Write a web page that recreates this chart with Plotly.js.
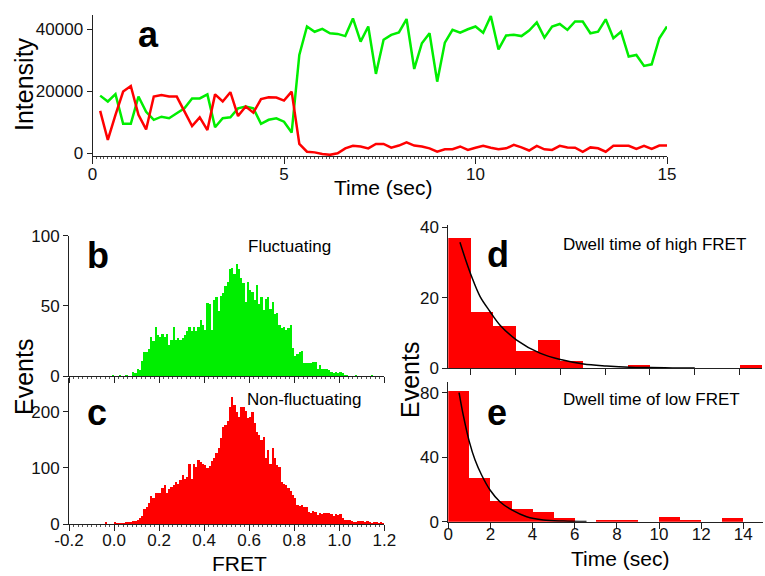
<!DOCTYPE html>
<html>
<head>
<meta charset="utf-8">
<script src="https://cdn.plot.ly/plotly-3.0.1.min.js"></script>
<style>html,body{margin:0;padding:0;background:#fff;}#chart{width:765px;height:576px;}</style>
</head>
<body>
<div id="chart"></div>
<script>
// ---------- Panel a: intensity time traces (sampled every 0.2 s, starting at 0.2 s) ----------
const traceStart = 0.2;
const traceStep = 0.2;
const greenIntensity = [18600,16700,19100,9500,9500,18300,13400,10800,11800,11300,12900,14500,17700,17700,19000,8400,11300,11600,14500,15100,14500,9500,10800,11300,10200,6700,31700,40900,39200,40100,38700,38500,37800,43500,36000,40900,25600,
  36600,38200,39000,43300,27200,35500,38700,23100,35700,39800,38900,40000,40900,38900,44300,33500,38000,38200,37800,39600,42200,37300,40900,41700,39800,42500,42500,38700,39200,43200,37100,39200,31200,31700,28200,28700,37100,40900];
const redIntensity = [13700,4300,12400,19900,21700,12400,7700,18300,18800,18300,18300,13400,8800,11600,7500,19000,16700,19700,12000,15100,13100,17500,18100,18000,17000,19900,3000,500,300,-200,-500,0,1600,2400,2200,1600,3000,
  3000,1800,2500,3500,2500,2200,1600,500,1300,1300,2200,1100,1800,2400,1800,1300,1600,2700,1900,900,2400,1300,1100,2400,1900,1800,500,1900,1600,500,2400,2400,2400,1400,2400,1400,2500,2500];
const timeTicks = [0, 5, 10, 15];
const intensityTicks = [0, 20000, 40000];

// ---------- Panels b, c: FRET histograms (bin width 0.01) ----------
const fretBinWidth = 0.01;
const fluctStartCenter = -0.005;
const fluctCounts = [1,0,0,1,0,0,1,0,0,3,2,5,4,11,17,17,19,28,25,35,29,28,30,28,30,22,26,35,26,27,26,27,29,32,35,32,35,32,35,40,36,33,52,51,33,54,56,46,57,59,64,67,76,77,73,80,76,70,66,53,67,61,60,54,65,51,56,47,55,56,48,53,44,45,36,34,35,33,34,36,20,14,16,17,18,9,9,9,9,10,10,5,8,5,5,5,4,3,2,3,2,3,2,1,1,0,0,0,1,0,0,0,0,0,0,1];
const nonFluctStartCenter = -0.035;
const nonFluctCounts = [3,0,0,0,4,2,2,1,2,4,4,4,5,6,8,10,14,26,31,37,50,46,55,56,56,64,69,55,62,66,69,75,72,78,87,80,84,106,81,107,102,114,111,106,105,99,103,113,117,126,135,153,173,176,184,209,227,212,200,191,209,208,202,188,191,200,179,164,158,150,155,117,132,106,135,117,105,102,75,72,69,64,59,52,46,34,32,34,30,31,22,20,24,22,16,20,18,20,19,19,18,14,18,16,18,10,8,8,7,6,4,4,6,5,6,4,6,4,2,4,4,2,4,2];
const fretTicks = [-0.2, 0.0, 0.2, 0.4, 0.6, 0.8, 1.0, 1.2];
const fretTickText = ['-0.2','0.0','0.2','0.4','0.6','0.8','1.0','1.2'];
const fluctTicks = [0, 50, 100];
const nonFluctTicks = [0, 100, 200];

// ---------- Panels d, e: dwell time histograms (1 s bins) ----------
const dwellStartCenter = 0.5;
const dwellBinWidth = 1;
const highDwellCounts = [37,16,12,5,8,2,0,0,1,0,0,0,0,1];
const lowDwellCounts = [81,27,13,8,6,2,0,1,1,0,3,1,0,2];
const highFitTime = [0.52,0.75,1.04,1.42,1.86,2.3,3.05,4.09,5.06,6.03,7.07,8.1,9.0,10.0,11.0];
const highFitValue = [35.7,31.2,26.0,20.3,16.1,12.3,8.0,4.3,2.4,1.2,0.65,0.3,0.2,0.1,0.05];
const lowFitTime = [0.51,0.71,1.0,1.27,1.58,1.98,2.45,3.01,3.72,4.51,5.46,6.56];
const lowFitValue = [80.2,66.2,49.6,38.3,29.0,19.7,12.4,7.3,3.1,1.1,0.4,0.1];
const highDwellXTicks = [1,3,5,7,9,11,13];
const lowDwellXTicks = [0,2,4,6,8,10,12,14];
const highDwellYTicks = [0,20,40];
const lowDwellYTicks = [0,40,80];

const GREEN = '#00ee00';
const RED = '#ff0000';
const AX = '#222222';
const W = 765, H = 576;
const px = v => v / W;
const py = v => 1 - v / H;

function axis(extra) {
  return Object.assign({
    showline: true, linecolor: AX, linewidth: 1,
    ticks: 'outside', tickcolor: AX, tickwidth: 1,
    showgrid: false, zeroline: false, fixedrange: true,
    tickfont: {size: 17, color: '#111'}
  }, extra);
}

const traces = [
  {type: 'scatter', mode: 'lines', x0: traceStart, dx: traceStep, y: greenIntensity,
   line: {color: GREEN, width: 2.5}, xaxis: 'x', yaxis: 'y'},
  {type: 'scatter', mode: 'lines', x0: traceStart, dx: traceStep, y: redIntensity,
   line: {color: RED, width: 2.5}, xaxis: 'x', yaxis: 'y'},
  {type: 'bar', x0: fluctStartCenter, dx: fretBinWidth, y: fluctCounts, width: fretBinWidth,
   marker: {color: GREEN, line: {width: 0}}, xaxis: 'x2', yaxis: 'y2'},
  {type: 'bar', x0: nonFluctStartCenter, dx: fretBinWidth, y: nonFluctCounts, width: fretBinWidth,
   marker: {color: RED, line: {width: 0}}, xaxis: 'x3', yaxis: 'y3'},
  {type: 'bar', x0: dwellStartCenter, dx: dwellBinWidth, y: highDwellCounts, width: dwellBinWidth,
   marker: {color: RED, line: {width: 0}}, xaxis: 'x4', yaxis: 'y4'},
  {type: 'scatter', mode: 'lines', x: highFitTime, y: highFitValue,
   line: {color: '#000', width: 1.5, shape: 'spline'}, xaxis: 'x4', yaxis: 'y4'},
  {type: 'bar', x0: dwellStartCenter, dx: dwellBinWidth, y: lowDwellCounts, width: dwellBinWidth,
   marker: {color: RED, line: {width: 0}}, xaxis: 'x5', yaxis: 'y5'},
  {type: 'scatter', mode: 'lines', x: lowFitTime, y: lowFitValue,
   line: {color: '#000', width: 1.5, shape: 'spline'}, xaxis: 'x5', yaxis: 'y5'}
];

function ann(text, x, y, size, opts) {
  return Object.assign({text: text, x: px(x), y: py(y), xref: 'paper', yref: 'paper',
    xanchor: 'center', yanchor: 'middle', showarrow: false,
    font: {size: size, color: '#000'}}, opts || {});
}

const layout = {
  width: W, height: H,
  margin: {l: 0, r: 0, t: 0, b: 0},
  paper_bgcolor: '#fff', plot_bgcolor: 'rgba(0,0,0,0)',
  showlegend: false, bargap: 0,
  font: {family: 'Liberation Sans, Arial, Helvetica, sans-serif', size: 17, color: '#000'},
  xaxis: axis({domain: [px(92.5), px(667)], anchor: 'y', range: [0, 15],
    tickvals: timeTicks, ticklen: 7, ticklabelstandoff: -4,
    minor: {dtick: 0.1, ticklen: 2, tickcolor: '#555', ticks: 'outside'}}),
  yaxis: axis({domain: [py(156), py(15)], anchor: 'x', range: [-870, 44600],
    tickvals: intensityTicks, tickformat: 'd', ticklen: 5}),
  xaxis2: axis({domain: [px(69), px(384.3)], anchor: 'y2', range: [-0.2, 1.2],
    tickvals: fretTicks, showticklabels: false, ticklen: 6,
    minor: {dtick: 0.02, ticklen: 2, tickcolor: '#555', ticks: 'outside'}}),
  yaxis2: axis({domain: [py(376), py(235.7)], anchor: 'x2', range: [0, 100],
    tickvals: fluctTicks, ticklen: 5}),
  xaxis3: axis({domain: [px(69), px(384.3)], anchor: 'y3', range: [-0.2, 1.2],
    tickvals: fretTicks, ticktext: fretTickText, ticklen: 6, ticklabelstandoff: -5,
    minor: {dtick: 0.02, ticklen: 2, tickcolor: '#555', ticks: 'outside'}}),
  yaxis3: axis({domain: [py(524), py(378)], anchor: 'x3', range: [0, 260],
    tickvals: nonFluctTicks, ticklen: 5}),
  xaxis4: axis({domain: [px(448.3), px(762)], anchor: 'y4', range: [0, 14],
    tickvals: highDwellXTicks, showticklabels: false, ticklen: 6}),
  yaxis4: axis({domain: [py(368.3), py(225)], anchor: 'x4', range: [0, 40.6],
    tickvals: highDwellYTicks, ticklen: 5}),
  xaxis5: axis({domain: [px(448.3), px(763.3)], anchor: 'y5', range: [0, 14.95],
    tickvals: lowDwellXTicks, ticklen: 6, ticklabelstandoff: -9}),
  yaxis5: axis({domain: [py(521.7), py(381.7)], anchor: 'x5', range: [0, 87],
    tickvals: lowDwellYTicks, ticklen: 5}),
  annotations: [
    ann('<b>a</b>', 148.3, 34.4, 36),
    ann('<b>b</b>', 98.3, 255.7, 36),
    ann('<b>c</b>', 96.7, 412.4, 36),
    ann('<b>d</b>', 497.5, 254.7, 36),
    ann('<b>e</b>', 497.2, 412.4, 36),
    ann('Fluctuating', 289, 246.3, 17),
    ann('Non-fluctuating', 303.7, 399, 17),
    ann('Dwell time of high FRET', 654.7, 244.7, 17),
    ann('Dwell time of low FRET', 651, 399, 17),
    ann('Intensity', 24, 84, 25, {textangle: -90}),
    ann('Time (sec)', 383, 187.6, 21),
    ann('Events', 24, 377, 25, {textangle: -90}),
    ann('Events', 410, 380, 25, {textangle: -90}),
    ann('FRET', 239, 563, 21),
    ann('Time (sec)', 620, 558.5, 21)
  ]
};

Plotly.newPlot('chart', traces, layout, {displayModeBar: false, staticPlot: true});
</script>
</body>
</html>
